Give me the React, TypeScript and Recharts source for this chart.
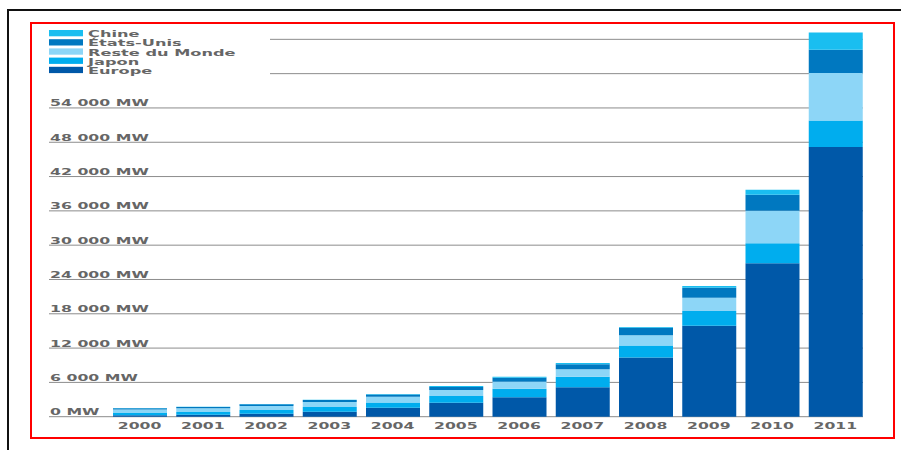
import { BarChart, Bar, XAxis, YAxis, CartesianGrid } from 'recharts';

const years = ['2000', '2001', '2002', '2003', '2004', '2005', '2006', '2007', '2008', '2009', '2010', '2011'];
const europe = [250, 330, 500, 850, 1550, 2450, 3400, 5150, 10350, 15900, 26850, 47150];
const japon = [400, 480, 650, 850, 950, 1170, 1500, 1850, 2100, 2570, 3500, 4650];
const resteDuMonde = [600, 650, 700, 850, 1000, 1050, 1200, 1300, 1800, 2330, 5650, 8300];
const etatsUnis = [220, 250, 330, 350, 400, 525, 700, 875, 1300, 1750, 2800, 4080];
const chine = [50, 50, 60, 60, 70, 175, 200, 230, 150, 300, 880, 3030];
const yTicks = [0, 6000, 12000, 18000, 24000, 30000, 36000, 42000, 48000, 54000, 60000, 66000];
const hiddenTicks = [60000, 66000];

// stacking order, bottom to top
const series = [
  { key: 'europe', name: 'Europe', color: '#0058A8' },
  { key: 'japon', name: 'Japon', color: '#00ADEE' },
  { key: 'reste', name: 'Reste du Monde', color: '#8DD6F7' },
  { key: 'usa', name: 'États-Unis', color: '#0078C0' },
  { key: 'chine', name: 'Chine', color: '#1ABEF0' },
];

const data = years.map((year, i) => ({
  year,
  europe: europe[i],
  japon: japon[i],
  reste: resteDuMonde[i],
  usa: etatsUnis[i],
  chine: chine[i],
}));

const FONT = '"DejaVu Sans", sans-serif';

const fmt = (v: number) => (v === 0 ? '0 MW' : `${Math.floor(v / 1000)} 000 MW`);

const YTick = (props: any) => {
  const { y, payload } = props;
  if (hiddenTicks.includes(payload.value)) return <g />;
  return (
    <text
      transform={`translate(50 ${y - 1.5}) scale(1.66 1)`}
      fontFamily={FONT}
      fontSize={9.5}
      fontWeight="bold"
      fill="#666"
      textAnchor="start"
    >
      {fmt(payload.value)}
    </text>
  );
};

const XTick = (props: any) => {
  const { x, payload } = props;
  return (
    <text
      transform={`translate(${x} 429) scale(1.65 1)`}
      fontFamily={FONT}
      fontSize={9.5}
      fontWeight="bold"
      fill="#666"
      textAnchor="middle"
    >
      {payload.value}
    </text>
  );
};

const gridLine = (p: any) => {
  // no line on the plot's top edge
  if (p.y1 < 35) return <g key={`h-${p.index}`} />;
  return (
    <line
      key={`h-${p.index}`}
      x1={p.y1 < 80 ? 270 : p.x1}
      x2={p.x2 - 4}
      y1={p.y1}
      y2={p.y2}
      stroke="#8c8c8c"
      strokeWidth={1}
    />
  );
};

function LegendBox() {
  const items = [...series].reverse();
  return (
    <svg width={260} height={90} style={{ position: 'absolute', left: 0, top: 0 }}>
      {items.map((s, i) => (
        <g key={s.key}>
          <rect x={49} y={30 + i * 9.2} width={34} height={6.3} fill={s.color} />
          <text
            transform={`translate(88 ${37.2 + i * 9.2}) scale(1.8 1)`}
            fontFamily={FONT}
            fontSize={9}
            fontWeight="bold"
            fill="#666"
          >
            {s.name}
          </text>
        </g>
      ))}
    </svg>
  );
}

export default function App() {
  return (
    <div style={{ position: 'absolute', left: 0, top: 0, width: 901, height: 450, overflow: 'hidden', background: '#fff' }}>
      <div style={{ position: 'absolute', left: 7, top: 9, width: 920, height: 460, borderLeft: '2px solid #111', borderTop: '2px solid #111' }} />
      <div style={{ position: 'absolute', left: 30, top: 22, width: 861, height: 413, border: '2px solid #f00' }} />
      <div style={{ position: 'absolute', left: 0, top: 0 }}>
        <BarChart width={901} height={450} data={data} margin={{ top: 27.9, right: 34, bottom: 0, left: 0 }}>
          <CartesianGrid vertical={false} horizontal={gridLine} />
          <XAxis
            dataKey="year"
            height={33.3}
            axisLine={false}
            tickLine={false}
            padding={{ left: 59, right: 0 }}
            tick={<XTick />}
            interval={0}
          />
          <YAxis
            width={49}
            domain={[0, 68000]}
            ticks={yTicks}
            axisLine={false}
            tickLine={false}
            tick={<YTick />}
            interval={0}
          />
          {series.map((s) => (
            <Bar key={s.key} dataKey={s.key} name={s.name} stackId="a" fill={s.color} barSize={54} isAnimationActive={false} />
          ))}
        </BarChart>
      </div>
      <LegendBox />
    </div>
  );
}
